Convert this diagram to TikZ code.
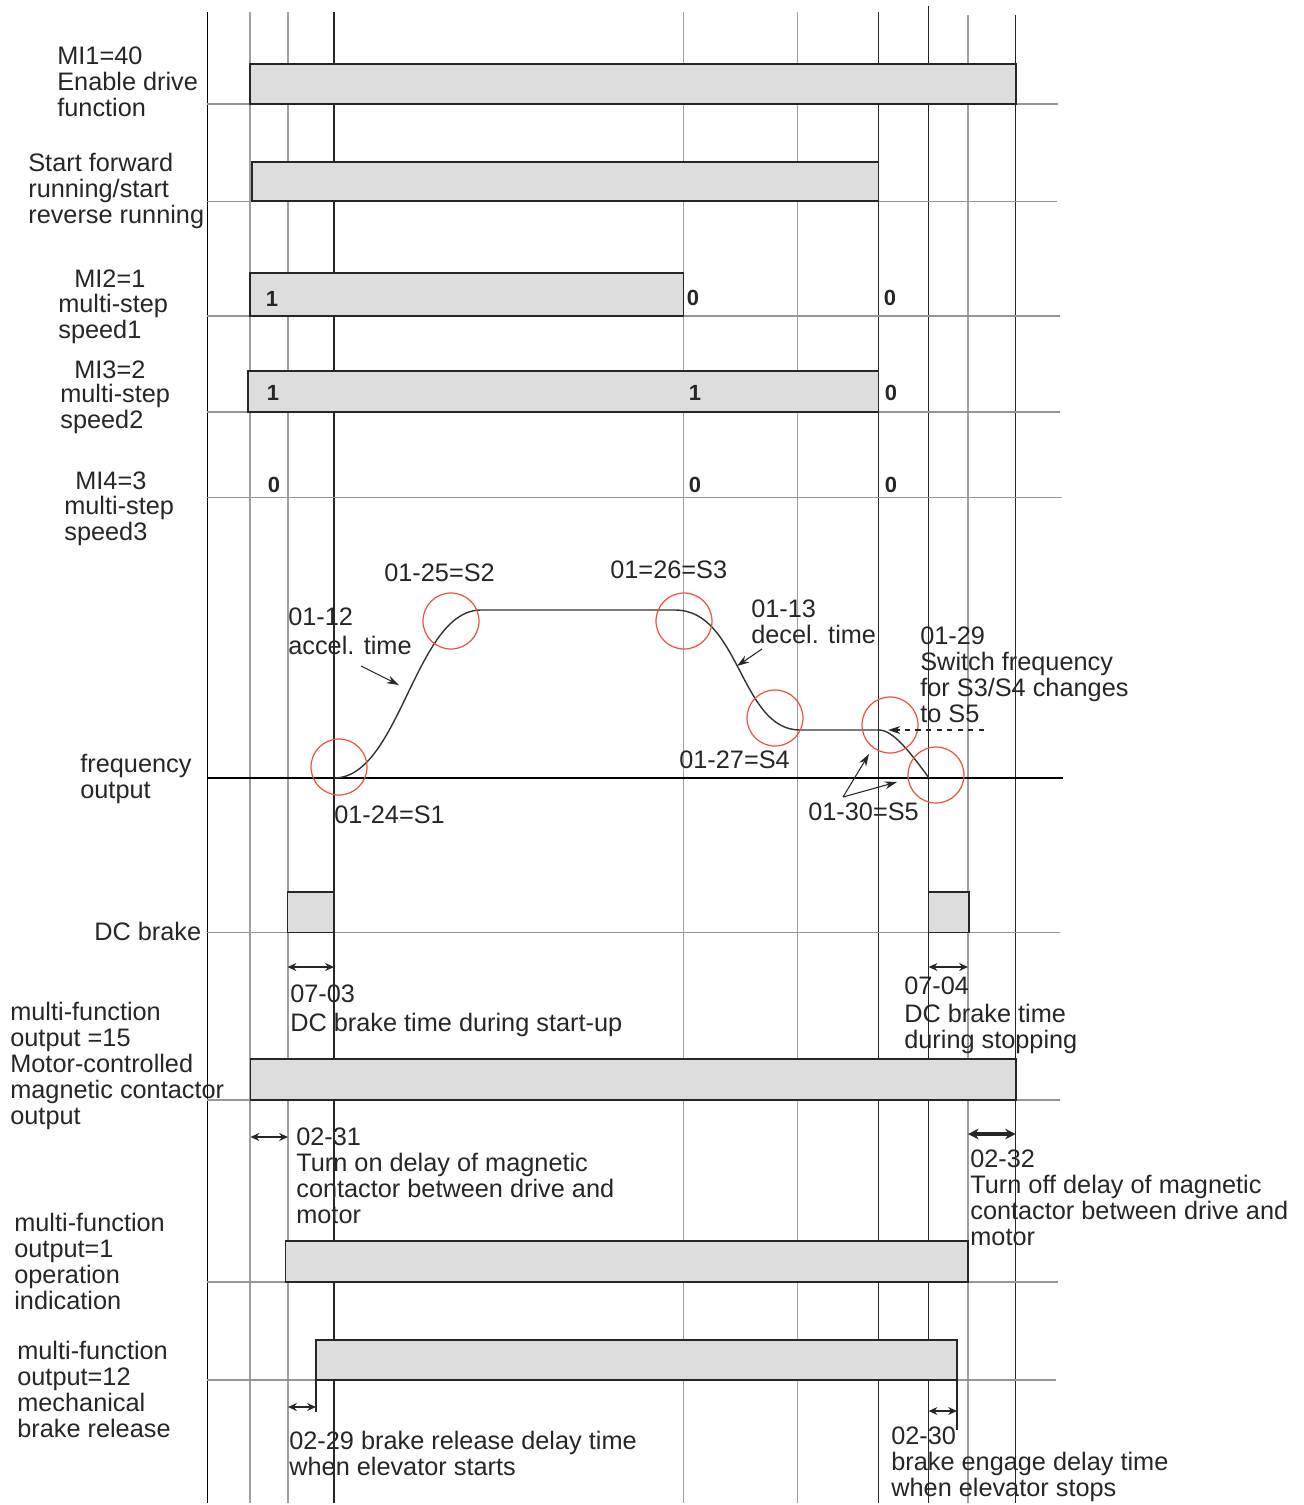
\documentclass[tikz,border=0pt]{standalone}
\usepackage{fontspec}
\setmainfont{Liberation Sans}
\usetikzlibrary{arrows.meta,positioning,calc}
\definecolor{bargray}{RGB}{221,221,221}
\definecolor{gridgray}{RGB}{160,160,160}
\definecolor{rulegray}{RGB}{150,150,150}
\definecolor{circred}{RGB}{238,82,62}
\tikzset{
    vgrid/.style={line width=1pt, gridgray},
    vdark/.style={line width=0.8pt, black!85},
    lowline/.style={line width=1pt, rulegray},
    sigbar/.style={draw=black!85, fill=bargray, line width=0.9pt},
    scurve/.style={line width=0.8pt, black!80},
    scircle/.style={circle, draw=circred, line width=0.7pt, minimum size=1.12cm, inner sep=0pt},
    txt/.style={font=\fontsize{14.4}{14.8}\selectfont, align=left, inner sep=0pt, anchor=base west, text=black!85},
    bit/.style={font=\fontsize{12.5}{12.5}\selectfont\bfseries, inner sep=0pt, text=black!85},
    annarrow/.style={-{Stealth[length=7pt,width=4.5pt]}, line width=0.6pt, black!85},
    dimarrow/.style={{Stealth[length=5pt,width=4.5pt]}-{Stealth[length=5pt,width=4.5pt]}, line width=0.8pt, black!85},
}

\begin{document}
\begin{tikzpicture}[x=0.02cm, y=-0.02cm]
    \useasboundingbox (0,0) rectangle (1304,1505);

    % time lines
    \foreach \x/\ys/\sty in {250/12/vgrid, 288/12/vgrid, 334/12/vdark, 683.5/12/vgrid, 797.5/12/vgrid, 878.5/12/vdark, 928.6/6/vdark, 968/15/vgrid, 1015.7/15/vdark}
        \draw[\sty] (\x,\ys) -- (\x,1503);
    \draw[line width=0.9pt, black] (207.3,12) -- (207.3,1503);

    % signal low levels
    \foreach \y/\xe in {104/1058, 201.5/1057, 316/1060, 412/1060, 497.4/1062, 932.5/1060, 1100/1060, 1282/1058, 1380/1056}
        \draw[lowline] (207.3,\y) -- (\xe,\y);
    \draw[line width=0.9pt, black] (207.3,778) -- (1063,778);

    % signal high levels
    \foreach \xa/\ya/\xb/\yb in {250/64/1015.7/104, 252/162/878.5/201, 250/273/683.5/316, 248/371/878.5/412, 287.5/892/334/932.5, 928.6/892/969/932.5, 250.5/1059/1015.7/1100, 285.5/1241/968/1282, 316/1340/957/1380}
        \draw[sigbar] (\xa,\ya) rectangle (\xb,\yb);
    \draw[line width=1.5pt, black!85] (250,64) -- (250,104);
    \draw[line width=0.8pt, black!85] (316,1380) -- (316,1412);
    \draw[line width=0.8pt, black!85] (957,1380) -- (957,1430);

    % bit values
    \foreach \x/\y/\v in {272/299/1, 693/298/0, 890/298/0, 273/393/1, 695/393/1, 891/393/0, 274/485/0, 695/485/0, 891/485/0}
        \node[bit] at (\x,\y) {\v};

    % frequency curve
    \draw[scurve] (334,778) .. controls (400,778) and (415,610) .. (481,610) -- (675,610)
        .. controls (740,610) and (740,730) .. (800,730) -- (879,730)
        .. controls (893,730) and (910,752) .. (929,778);
    \node[scircle] (S1) at (339,767) {};
    \node[scircle] (S2) at (451,621) {};
    \node[scircle] (S3) at (684,621) {};
    \node[scircle] (S4) at (775,718) {};
    \node[scircle] (S5a) at (890,725) {};
    \node[scircle] (S5b) at (936,775) {};

    % row labels (anchored at the baseline of the last line)
    \node[txt] (lMI1) at (57,116) {MI1=40\\Enable drive\\function};
    \node[txt] (lRun) at (28,223) {Start forward\\running/start\\reverse running};
    \node[txt] (lMI2) at (74,287) {MI2=1};
    \node[txt] (lMI2b) at (58,338) {multi-step\\speed1};
    \node[txt] (lMI3) at (74,378) {MI3=2};
    \node[txt] (lMI3b) at (60,428) {multi-step\\speed2};
    \node[txt] (lMI4) at (75,489) {MI4=3};
    \node[txt] (lMI4b) at (64,540) {multi-step\\speed3};
    \node[txt] (lFreq) at (80,798) {frequency\\output};
    \node[txt] (lDC) at (94,940) {DC brake};
    \node[txt] (lMC) at (10,1124) {multi-function\\output =15\\Motor-controlled\\magnetic contactor\\output};
    \node[txt] (lRun1) at (14,1309) {multi-function\\output=1\\operation\\indication};
    \node[txt] (lBrk) at (17,1437) {multi-function\\output=12\\mechanical\\brake release};

    % curve notes
    \node[txt] (nS2) at (384,581) {01-25=S2};
    \node[txt] (nS3) at (610,578) {01=26=S3};
    \node[txt] (nAcc) at (288,654) {01-12\\[1.7pt]accel. time};
    \node[txt] (nS1) at (334,823) {01-24=S1};
    \node[txt] (nS4) at (679,768) {01-27=S4};
    \node[txt] (nDec) at (751,643) {01-13\\decel. time};
    \node[txt] (nSw) at (920,722) {01-29\\Switch frequency\\for S3/S4 changes\\to S5};
    \node[txt] (nS5) at (808,820) {01-30=S5};
    \coordinate (accTail) at (361,666);
    \coordinate (accTip) at (399,685);
    \coordinate (decTail) at (762,649);
    \coordinate (decTip) at (737,666);
    \coordinate (swTail) at (984,730);
    \coordinate (swTip) at (888,730);
    \coordinate (s5Tail) at (843,797);
    \coordinate (s5TipA) at (869,754);
    \coordinate (s5TipB) at (897,782);
    \draw[annarrow] (accTail) -- (accTip);
    \draw[annarrow] (decTail) -- (decTip);
    \draw[annarrow, dashed] (swTail) -- (swTip);
    \draw[annarrow] (s5Tail) -- (s5TipA);
    \draw[annarrow] (s5Tail) -- (s5TipB);

    % delay times
    \coordinate (d03a) at (287.5,967);
    \coordinate (d03b) at (334,967);
    \coordinate (d04a) at (928.6,967);
    \coordinate (d04b) at (968,967);
    \coordinate (d31a) at (250.5,1137);
    \coordinate (d31b) at (288,1137);
    \coordinate (d32a) at (968,1134);
    \coordinate (d32b) at (1015.7,1134);
    \coordinate (d29a) at (288,1407);
    \coordinate (d29b) at (316,1407);
    \coordinate (d30a) at (928.6,1411);
    \coordinate (d30b) at (957,1411);
    \draw[dimarrow] (d03a) -- (d03b);
    \draw[dimarrow] (d04a) -- (d04b);
    \draw[dimarrow] (d31a) -- (d31b);
    \draw[{Stealth[length=6pt,width=6pt]}-{Stealth[length=6pt,width=6pt]}, line width=2.4pt, black!85] (d32a) -- (d32b);
    \draw[dimarrow] (d29a) -- (d29b);
    \draw[dimarrow] (d30a) -- (d30b);
    \node[txt] (n03) at (290,1031) {07-03\\[1.5pt]DC brake time during start-up};
    \node[txt] (n04) at (904,1048) {07-04\\[1pt]DC brake time\\during stopping};
    \node[txt] (n31) at (296,1223) {02-31\\Turn on delay of magnetic\\contactor between drive and\\motor};
    \node[txt] (n32) at (970,1245) {02-32\\Turn off delay of magnetic\\contactor between drive and\\motor};
    \node[txt] (n29) at (289,1475) {02-29 brake release delay time\\when elevator starts};
    \node[txt] (n30) at (891,1496) {02-30\\brake engage delay time\\when elevator stops};
\end{tikzpicture}
\end{document}
